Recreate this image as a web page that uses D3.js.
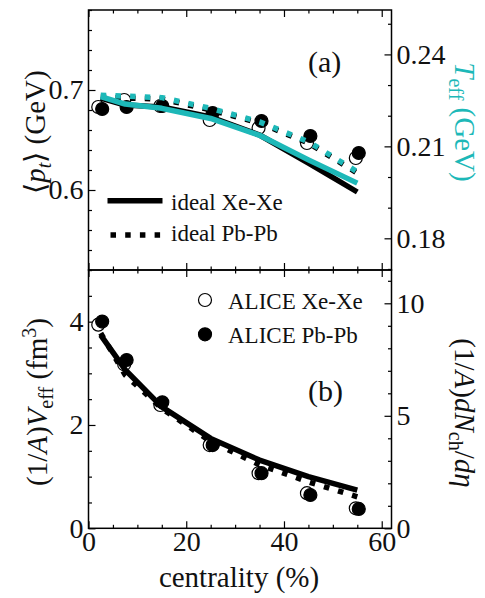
<!DOCTYPE html>
<html><head><meta charset="utf-8">
<script src="https://cdn.jsdelivr.net/npm/d3@7"></script>
<style>
html,body{margin:0;padding:0;background:#fff;}
svg{display:block;font-family:"Liberation Serif","Times New Roman",serif;}
</style></head>
<body><svg id="c" width="485" height="598"></svg>
<script>
// ---- data ----
const modelCent = [2.5, 7.5, 15, 25, 35, 45, 55];
const xeCent = [2.0, 7.3, 14.7, 24.8, 34.8, 44.7, 54.7];
const pbCent = [2.8, 7.8, 15.1, 25.4, 35.4, 45.4, 55.3];
const ptXeData = [0.683, 0.690, 0.684, 0.670, 0.662, 0.647, 0.632];
const ptPbData = [0.681, 0.683, 0.684, 0.677, 0.669, 0.654, 0.637];
const ptXeIdeal = [0.692, 0.685, 0.683, 0.673, 0.655, 0.627, 0.598];
const ptPbIdeal = [0.693, 0.692, 0.691, 0.680, 0.667, 0.647, 0.617];
const teffXeIdeal = [0.2262, 0.2238, 0.2224, 0.2191, 0.2136, 0.2056, 0.1980];
const teffPbIdeal = [0.2267, 0.2264, 0.2259, 0.2224, 0.2180, 0.2115, 0.2017];
const dndetaXe = [9.05, 7.29, 5.48, 3.70, 2.45, 1.56, 0.89];
const dndetaPb = [9.19, 7.48, 5.60, 3.70, 2.45, 1.48, 0.86];
const veffXeIdeal = [3.74, 3.07, 2.35, 1.74, 1.32, 1.00, 0.74];
const veffPbIdeal = [3.78, 2.97, 2.32, 1.68, 1.23, 0.90, 0.61];
const xTicks = [0, 20, 40, 60];
const ptTicks = [0.6, 0.7];
const teffTicks = [0.18, 0.21, 0.24];
const veffTicks = [0, 2, 4];
const dndetaTicks = [0, 5, 10];

// ---- layout ----
const L = 88.5, R = 391.5, T1 = 10, M = 270, B = 528.3;
const cyan = "#1db8b8";
const svg = d3.select("#c");
const x = d3.scaleLinear([0, 62], [L, R]);
const yPt = d3.scaleLinear([0.52, 0.78], [M, T1]);
const yT = d3.scaleLinear([0.16966, 0.25449], [M, T1]);
const yV = d3.scaleLinear([0, 5], [B, M]);
const yN = d3.scaleLinear([0, 11.48], [B, M]);

const fs = 28;
function axis(gen, scale, ticks, size, label, tx, ty) {
  const g = svg.append("g").attr("transform", `translate(${tx},${ty})`)
    .call(gen(scale).tickValues(ticks).tickSize(size).tickPadding(label ? 5 : 0)
      .tickFormat(label ? (d => String(d)) : () => ""));
  g.select(".domain").remove();
  g.selectAll(".tick line").attr("stroke", "#000").attr("stroke-width", 1.2);
  g.selectAll("text").attr("font-family", "Liberation Serif").attr("font-size", fs).attr("fill", "#111");
  return g;
}
const rng = (a, b, s) => d3.range(a, b + s / 2, s).map(v => +v.toFixed(4));
const xMinor = rng(0, 60, 5).filter(v => v % 20 !== 0);
// top panel
axis(d3.axisTop, x, xTicks, -7, false, 0, T1);
axis(d3.axisTop, x, xMinor, -3.5, false, 0, T1);
axis(d3.axisBottom, x, xTicks, -7, false, 0, M);
axis(d3.axisBottom, x, xMinor, -3.5, false, 0, M);
axis(d3.axisLeft, yPt, ptTicks, -7, true, L, 0);
axis(d3.axisLeft, yPt, rng(0.52, 0.78, 0.02).filter(v => !ptTicks.includes(v)), -3.5, false, L, 0);
axis(d3.axisRight, yT, teffTicks, -7, true, R, 0);
axis(d3.axisRight, yT, [0.17, 0.19, 0.20, 0.22, 0.23, 0.25], -3.5, false, R, 0);
// bottom panel
axis(d3.axisTop, x, xTicks, -7, false, 0, M);
axis(d3.axisTop, x, xMinor, -3.5, false, 0, M);
const xb = axis(d3.axisBottom, x, xTicks, -7, true, 0, B);
xb.selectAll("text").attr("dy", "0.71em").attr("y", 3);
axis(d3.axisBottom, x, xMinor, -3.5, false, 0, B);
axis(d3.axisLeft, yV, veffTicks, -7, true, L, 0);
axis(d3.axisLeft, yV, rng(0, 5, 0.5).filter(v => !veffTicks.includes(v)), -3.5, false, L, 0);
axis(d3.axisRight, yN, dndetaTicks, -7, true, R, 0);
axis(d3.axisRight, yN, rng(0, 11, 1).filter(v => !dndetaTicks.includes(v)), -3.5, false, R, 0);

// frames
svg.append("rect").attr("x", L).attr("y", T1).attr("width", R - L).attr("height", M - T1)
  .attr("fill", "none").attr("stroke", "#000").attr("stroke-width", 1.5);
svg.append("rect").attr("x", L).attr("y", M).attr("width", R - L).attr("height", B - M)
  .attr("fill", "none").attr("stroke", "#000").attr("stroke-width", 1.5);

// ---- marks ----
const LW = 5.5, DASH = "5.5,9.2";
function markers(xs, ys, ysc, filled) {
  svg.append("g").selectAll("circle").data(xs).join("circle")
    .attr("cx", d => x(d)).attr("cy", (d, i) => ysc(ys[i])).attr("r", 6.5)
    .attr("fill", filled ? "#000" : "#fff").attr("stroke", "#000").attr("stroke-width", 1.2);
}
function curve(ys, ysc, color, dashed) {
  const line = d3.line().x((d, i) => x(modelCent[i])).y(d => ysc(d));
  svg.append("path").attr("d", line(ys)).attr("fill", "none").attr("stroke", color)
    .attr("stroke-width", LW).attr("stroke-dasharray", dashed ? DASH : null)
    .attr("stroke-linejoin", "round");
}
// top
markers(xeCent, ptXeData, yPt, false);
markers(pbCent, ptPbData, yPt, true);
curve(ptXeIdeal, yPt, "#000", false);
curve(ptPbIdeal, yPt, "#000", true);
curve(teffXeIdeal, yT, cyan, false);
curve(teffPbIdeal, yT, cyan, true);
// bottom
markers(xeCent, dndetaXe, yN, false);
markers(pbCent, dndetaPb, yN, true);
curve(veffXeIdeal, yV, "#000", false);
curve(veffPbIdeal, yV, "#000", true);

// ---- legends ----
const lg = svg.append("g");
lg.append("line").attr("x1", 107.5).attr("x2", 162.5).attr("y1", 200.7).attr("y2", 200.7)
  .attr("stroke", "#000").attr("stroke-width", LW);
lg.append("line").attr("x1", 110.5).attr("x2", 162.5).attr("y1", 235).attr("y2", 235)
  .attr("stroke", "#000").attr("stroke-width", LW).attr("stroke-dasharray", DASH);
lg.append("text").attr("x", 171).attr("y", 209.5).attr("font-size", 23).attr("fill", "#111").text("ideal Xe-Xe");
lg.append("text").attr("x", 171).attr("y", 241).attr("font-size", 23).attr("fill", "#111").text("ideal Pb-Pb");
lg.append("circle").attr("cx", 205).attr("cy", 300).attr("r", 6.5).attr("fill", "#fff").attr("stroke", "#000").attr("stroke-width", 1.2);
lg.append("circle").attr("cx", 205).attr("cy", 334.3).attr("r", 6.5).attr("fill", "#000").attr("stroke", "#000").attr("stroke-width", 1.2);
lg.append("text").attr("x", 228).attr("y", 309).attr("font-size", 23).attr("fill", "#111").text("ALICE Xe-Xe");
lg.append("text").attr("x", 228).attr("y", 343).attr("font-size", 23).attr("fill", "#111").text("ALICE Pb-Pb");
svg.append("text").attr("x", 308).attr("y", 72).attr("font-size", 30).attr("fill", "#111").text("(a)");
svg.append("text").attr("x", 308).attr("y", 401).attr("font-size", 30).attr("fill", "#111").text("(b)");

// ---- axis titles ----
const AF = 29;
svg.append("text").attr("x", 239).attr("y", 587).attr("text-anchor", "middle")
  .attr("font-size", AF).attr("fill", "#111").text("centrality (%)");

function rich(tx, ty, rot, parts, color) {
  const t = svg.append("text").attr("transform", `translate(${tx},${ty}) rotate(${rot})`)
    .attr("text-anchor", "middle").attr("font-size", AF).attr("fill", color || "#111");
  let cur = 0;
  parts.forEach(p => {
    const s = t.append("tspan").text(p.t);
    const target = p.sub ? 6 : p.sup ? -11 : 0;
    if (target !== cur) { s.attr("dy", target - cur); cur = target; }
    if (p.i) s.attr("font-style", "italic");
    if (p.sub || p.sup) s.attr("font-size", 20);
  });
  return t;
}
rich(45, 132, -90, [{t: "⟨"}, {t: "p", i: 1}, {t: "t", i: 1, sub: 1}, {t: "⟩ (GeV)"}]);
rich(47, 402, -90, [{t: "(1/"}, {t: "A", i: 1}, {t: ")"}, {t: "V", i: 1}, {t: "eff", sub: 1}, {t: " (fm"}, {t: "3", sup: 1}, {t: ")"}]);
rich(455, 122, 90, [{t: "T", i: 1}, {t: "eff", sub: 1}, {t: " (GeV)"}], cyan);
rich(455, 413, 90, [{t: "(1/"}, {t: "A", i: 1}, {t: ")"}, {t: "dN", i: 1}, {t: "ch", sub: 1}, {t: "/"}, {t: "dη", i: 1}]);
</script></body></html>
